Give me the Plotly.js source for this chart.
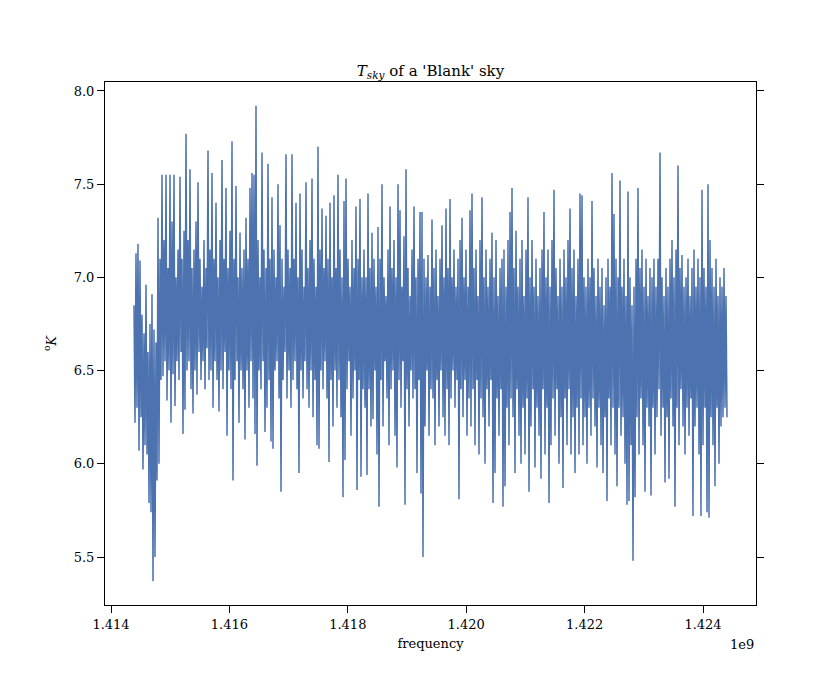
<!DOCTYPE html>
<html>
<head>
<meta charset="utf-8">
<script src="https://cdn.plot.ly/plotly-3.0.1.min.js"></script>
<style>html,body{margin:0;padding:0;background:#fff;}#chart{width:840px;height:680px;}</style>
</head>
<body>
<div id="chart"></div>
<script>
// Sampling grid of the spectrum (Hz)
var freqStart = 1.4143885e9;
var freqStep = 16892;

// Sky temperature values (degrees K)
var tsky = [
6.85,6.22,7.13,6.30,7.18,6.07,7.09,6.25,6.80,5.97,6.70,6.10,6.96,6.05,6.60,5.79,6.75,5.74,6.91,5.37,
6.72,5.50,6.65,5.91,7.32,6.00,7.10,6.45,7.55,6.47,7.20,6.55,7.55,6.34,7.05,6.50,7.55,6.22,7.30,6.48,
7.55,6.31,7.00,6.55,7.15,6.45,7.54,6.60,7.10,6.16,7.25,6.29,7.77,6.50,7.20,6.55,7.58,6.40,7.05,6.27,
7.15,6.50,7.30,6.37,7.51,6.60,7.10,6.45,6.95,6.55,7.20,6.40,7.05,6.62,7.68,6.45,7.15,6.50,7.56,6.30,
7.10,6.55,7.40,6.45,7.00,6.28,7.20,6.50,7.63,6.40,7.10,6.60,7.48,6.15,7.05,6.50,7.25,6.40,7.73,5.91,
7.10,6.45,7.49,6.55,7.00,6.22,7.24,6.50,7.05,6.40,7.15,6.13,7.32,6.50,7.10,6.30,7.48,6.55,7.56,6.35,
7.55,6.16,7.92,5.99,7.20,6.50,7.00,6.40,7.67,6.55,7.15,6.17,7.05,6.30,7.61,6.45,7.10,6.12,7.43,6.08,
7.15,6.50,7.00,6.55,7.50,6.35,7.28,5.85,7.10,6.45,6.95,6.60,7.66,6.35,7.15,6.50,7.05,6.30,7.66,6.45,
7.10,6.55,7.40,6.40,7.00,5.95,7.45,6.50,7.15,6.35,6.95,6.55,7.51,6.40,7.05,6.30,7.20,6.50,7.53,6.25,
7.10,6.45,6.95,6.10,7.70,6.08,7.15,6.50,7.37,6.40,7.05,6.55,7.33,6.35,7.10,6.01,7.40,6.45,7.00,6.20,
7.44,6.50,7.05,6.30,7.55,6.45,7.15,6.25,7.00,5.82,7.41,6.02,7.53,6.40,7.10,6.55,6.95,6.15,7.20,6.35,
7.05,6.50,7.38,5.86,7.10,6.45,7.42,5.93,7.00,6.40,7.15,6.30,7.00,5.94,7.45,6.40,7.05,6.20,7.24,6.24,
7.10,6.50,6.95,6.05,7.27,5.77,7.10,6.45,7.50,6.20,7.00,6.55,6.90,6.35,7.15,6.10,7.38,6.40,7.05,6.50,
7.20,6.15,7.00,5.98,7.50,6.45,7.36,6.30,6.95,6.55,7.22,5.78,7.58,6.40,7.05,6.20,6.90,6.50,7.15,6.35,
7.38,6.40,7.00,5.95,7.10,6.45,7.35,5.84,7.35,5.50,7.10,6.20,7.00,6.50,7.12,6.15,6.95,6.40,7.31,6.35,
7.05,6.10,7.15,6.45,6.90,6.20,7.10,6.50,7.28,6.25,7.00,6.15,7.37,6.40,7.05,6.10,7.42,6.35,7.00,6.50,
7.15,6.30,6.95,6.45,7.10,5.81,7.20,6.40,7.32,6.25,7.00,6.45,7.15,6.15,6.95,6.35,7.36,6.20,7.45,6.40,
7.05,6.10,7.15,6.45,6.90,6.05,7.20,6.35,7.43,6.25,7.00,6.00,7.15,6.40,6.95,6.20,7.10,6.45,7.24,5.79,
7.00,5.95,7.20,6.35,6.90,6.15,7.05,6.40,7.10,5.77,7.15,5.88,6.95,6.30,7.20,6.10,7.35,6.35,7.48,6.25,
7.05,5.95,7.25,6.40,6.95,6.15,7.10,6.00,7.20,6.30,6.90,6.05,7.15,6.35,7.43,5.85,7.00,6.20,7.20,6.40,
6.95,5.98,7.10,6.30,6.90,6.15,7.05,5.92,7.15,6.40,7.35,6.05,7.00,6.30,7.15,5.79,6.95,6.10,7.20,6.35,
7.47,6.15,7.05,6.40,6.90,6.00,7.10,6.25,6.95,5.87,7.15,6.35,7.00,6.10,7.20,6.40,7.37,6.05,7.05,6.25,
7.15,5.95,6.90,6.30,7.10,6.05,7.45,6.35,7.44,6.10,7.00,6.25,6.95,6.00,7.10,6.30,7.00,6.15,7.41,6.35,
7.05,6.20,6.90,5.98,7.10,6.30,6.95,6.10,7.05,5.95,6.85,6.25,7.00,5.80,7.10,6.35,6.95,6.10,7.56,6.30,
7.34,6.05,7.10,5.88,7.00,6.30,7.52,6.15,6.95,6.25,7.10,6.00,6.90,5.78,7.46,5.80,7.00,6.10,6.85,5.48,
6.95,5.82,7.10,6.25,7.48,6.05,7.05,6.35,7.15,6.10,6.95,5.85,7.10,6.30,6.90,6.20,7.05,5.83,7.00,6.30,
7.10,6.05,6.95,6.25,7.10,6.40,7.67,6.15,7.00,6.30,6.90,5.90,7.05,6.25,6.95,5.92,7.10,6.35,7.20,6.20,
7.00,5.77,7.15,6.30,7.60,6.10,7.05,6.40,7.12,6.20,6.95,6.05,7.00,6.30,7.10,6.15,6.90,6.35,7.05,5.72,
7.15,6.20,6.95,6.30,7.10,6.05,7.00,5.72,7.47,6.10,7.05,6.30,6.95,5.74,7.50,5.71,7.20,6.25,7.05,6.10,
6.95,5.88,7.10,6.30,6.90,6.00,7.00,6.20,6.95,6.25,7.05,6.30,6.90,6.25
];

// Axis tick values and labels
var xTickVals = [1.414e9, 1.416e9, 1.418e9, 1.420e9, 1.422e9, 1.424e9];
var xTickText = ["1.414", "1.416", "1.418", "1.420", "1.422", "1.424"];
var yTickVals = [5.5, 6.0, 6.5, 7.0, 7.5, 8.0];
var yTickText = ["5.5", "6.0", "6.5", "7.0", "7.5", "8.0"];

var freq = tsky.map(function (_, i) { return freqStart + i * freqStep; });

var serif = "DejaVu Serif, serif";

var trace = {
  x: freq,
  y: tsky,
  type: "scatter",
  mode: "lines",
  line: { color: "#4C72B0", width: 1.5 },
  hoverinfo: "skip"
};

var layout = {
  width: 840,
  height: 680,
  paper_bgcolor: "#ffffff",
  plot_bgcolor: "#ffffff",
  margin: { l: 105, r: 84, t: 82, b: 75, pad: 0 },
  showlegend: false,
  font: { family: serif, size: 13, color: "#000000" },
  title: {
    text: "<i>T</i><sub><i>sky</i></sub> of a 'Blank' sky",
    font: { family: serif, size: 15, color: "#000000" },
    x: 0.5, xanchor: "center", xref: "paper",
    y: 1, yref: "paper", yanchor: "bottom", pad: { b: 6 }
  },
  xaxis: {
    range: [1.4138986e9, 1.4248953e9],
    tickmode: "array",
    tickvals: xTickVals,
    ticktext: xTickText,
    ticks: "outside",
    ticklen: 7,
    tickwidth: 1,
    tickcolor: "#000000",
    showline: true,
    linecolor: "#000000",
    linewidth: 1,
    mirror: true,
    showgrid: false,
    zeroline: false,
    tickfont: { family: serif, size: 13, color: "#000000" },
    title: { text: "frequency", font: { family: serif, size: 13, color: "#000000" }, standoff: 8 }
  },
  yaxis: {
    range: [5.2425, 8.048],
    tickmode: "array",
    tickvals: yTickVals,
    ticktext: yTickText,
    ticks: "outside",
    ticklen: 7,
    tickwidth: 1,
    tickcolor: "#000000",
    showline: true,
    linecolor: "#000000",
    linewidth: 1,
    mirror: "ticks",
    showgrid: false,
    zeroline: false,
    tickfont: { family: serif, size: 13, color: "#000000" },
    title: { text: "<sup>o</sup><i>K</i>", font: { family: serif, size: 13, color: "#000000" }, standoff: 14 }
  },
  annotations: [{
    text: "1e9",
    xref: "paper", yref: "paper",
    x: 1, y: 0,
    xanchor: "right", yanchor: "top",
    yshift: -30,
    showarrow: false,
    font: { family: serif, size: 13, color: "#000000" }
  }]
};

Plotly.newPlot("chart", [trace], layout, { displayModeBar: false, staticPlot: true });
</script>
</body>
</html>
